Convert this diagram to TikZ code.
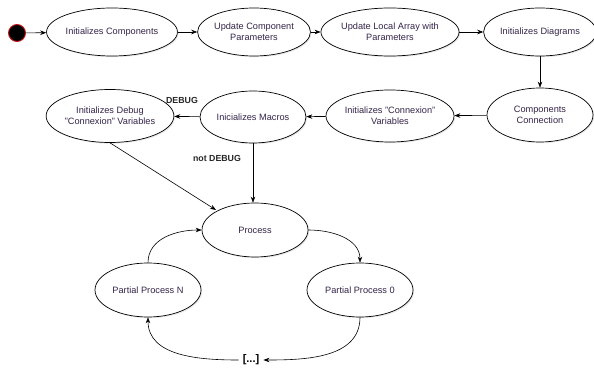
\documentclass[tikz,border=0pt]{standalone}
\usepackage{fontspec}
\setmainfont{Liberation Sans}
\usetikzlibrary{shapes.geometric,arrows.meta,shadows}
\definecolor{txt}{RGB}{52,36,72}
\definecolor{startred}{RGB}{200,20,20}
\tikzset{
  st/.style={ellipse, draw=black, line width=0.7pt, fill=white, minimum width=106pt, minimum height=#1, inner sep=0pt, align=center, font=\fontsize{9.2pt}{10.6pt}\selectfont, text=txt,
    drop shadow={opacity=0.18, shadow xshift=1.2pt, shadow yshift=-1.2pt}},
  st/.default=50pt,
  arr/.style={-{Stealth[length=6pt,width=4.5pt]}, line width=0.6pt, black},
  lbl/.style={font=\bfseries\fontsize{8.8pt}{10pt}\selectfont, text=black!85}
}
\begin{document}
\begin{tikzpicture}[x=1pt,y=-1pt]
\useasboundingbox (0,0) rectangle (594,371);
\node[circle, fill=black, draw=startred, line width=0.9pt, minimum size=17pt, inner sep=0pt] (start) at (17,33) {};
\node[st=48pt] (ic) at (112,32) {Initializes Components};
\node[st=48pt] (ucp) at (254,32) {Update Component\\Parameters};
\node[st=48pt] (ula) at (390,32) {Update Local Array with\\Parameters};
\node[st=48pt] (id) at (540,32) {Initializes Diagrams};
\node[st=54pt] (cc) at (540,115) {Components\\Connection};
\node[st=52pt] (icv) at (390,116) {Initializes "Connexion"\\Variables};
\node[st=52pt] (im) at (253,117) {Inicializes Macros};
\node[st=53pt] (idv) at (110,116) {Initializes Debug\\"Connexion" Variables};
\node[st=54pt] (proc) at (255,230) {Process};
\node[st=54pt] (ppn) at (148,290) {Partial Process N};
\node[st=54pt] (pp0) at (360,290) {Partial Process 0};
\node[font=\bfseries\fontsize{11pt}{12pt}\selectfont, inner xsep=4pt, inner ysep=2pt] (dots) at (251,360) {[...]};
\node[lbl] (ldebug) at (182,100) {DEBUG};
\node[lbl] (lnot) at (217,158) {not DEBUG};
\coordinate (pin) at (216,210);
\draw[arr] (start) -- (ic);
\draw[arr] (ic) -- (ucp);
\draw[arr] (ucp) -- (ula);
\draw[arr] (ula) -- (id);
\draw[arr] (id) -- (cc);
\draw[arr] (cc) -- (icv);
\draw[arr] (icv) -- (im);
\draw[arr] (im) -- (idv);
\draw[arr] (idv.south) -- (pin);
\draw[arr] (im.south) -- (proc.north -| im.south);
\draw[arr] (proc.east) to[out=0,in=90] (pp0.north);
\draw[arr] (pp0.south) to[out=-90,in=0] (dots.east);
\draw[arr] (dots.west) to[out=180,in=-90] (ppn.south);
\draw[arr] (ppn.north) to[out=90,in=180] (proc.west);
\end{tikzpicture}
\end{document}
